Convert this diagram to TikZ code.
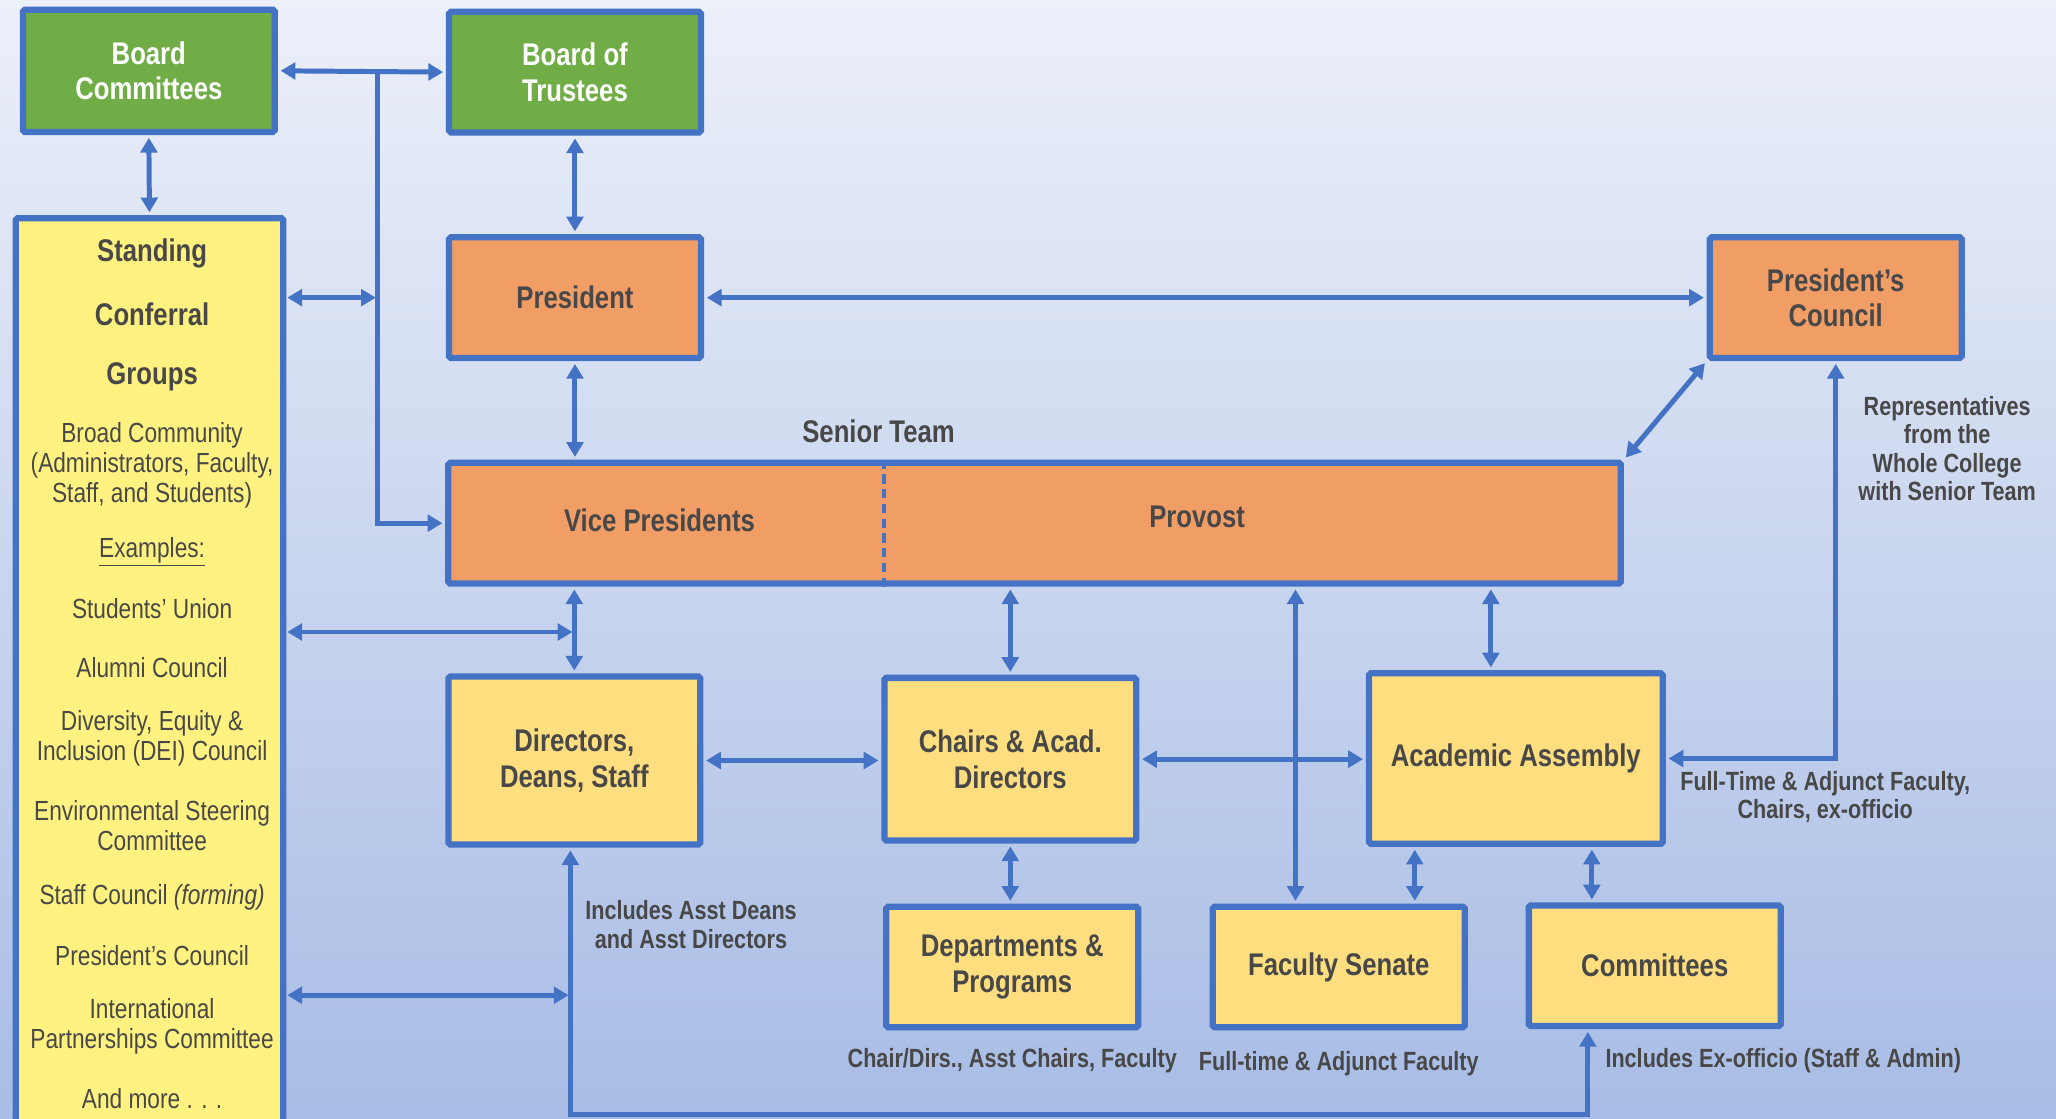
\documentclass[tikz,border=0pt]{standalone}
\usepackage{fontspec}
\setmainfont[FakeStretch=0.82]{Liberation Sans}
\usepackage{tikz}
\usetikzlibrary{arrows.meta,positioning,calc}
\definecolor{orgblue}{RGB}{68,114,196}
\definecolor{grn}{RGB}{112,173,71}
\definecolor{org}{RGB}{241,157,102}
\definecolor{ylw}{RGB}{255,222,128}
\definecolor{lylw}{RGB}{255,242,128}
\definecolor{txtgray}{RGB}{72,72,72}
\definecolor{bgtop}{RGB}{236,240,249}
\definecolor{bgbot}{RGB}{168,188,229}

\begin{document}
\begin{tikzpicture}[x=0.025cm, y=-0.025cm, >={Triangle[length=8pt,width=9pt]},
  box/.style={rectangle, rounded corners=1pt, draw=orgblue, line width=3.4pt, align=center, text=txtgray,
    font=\bfseries\fontsize{17}{19.3}\selectfont, minimum width=4.8cm, minimum height=2.3cm, inner sep=2pt},
  head/.style={text=txtgray, font=\bfseries\fontsize{17}{19.3}\selectfont},
  item/.style={text=txtgray, align=center, font=\fontsize{15}{16.3}\selectfont, inner sep=1pt},
  note/.style={text=txtgray, align=center, font=\bfseries\fontsize{14.3}{15.4}\selectfont, inner sep=1pt}]
   \fill[top color=bgtop, bottom color=bgbot] (0,0) rectangle (1568,853);
   \useasboundingbox (0,0) rectangle (1568,853);
   \clip (0,0) rectangle (1568,853);
   \begin{scope}[every node/.style={box}]
    \node (bc) [fill=grn, text=white, minimum height=2.33cm] at (113.5,54) {Board\\Committees};
    \node (bt) [fill=grn, text=white] at (438.5,55) {Board of\\Trustees};
    \node (pres) [fill=org] at (438.5,227) {President};
    \node (pc) [fill=org] at (1400,227) {President’s\\Council};
    \node (st) [fill=org, minimum width=22.35cm] at (789,399) {};
    \node (dds) [fill=ylw, minimum height=3.2cm] at (438,580) {Directors,\\Deans, Staff};
    \node (cad) [fill=ylw, minimum height=3.1cm] at (770.5,579) {Chairs \& Acad.\\Directors};
    \node (aa) [fill=ylw, minimum width=5.6cm, minimum height=3.25cm] at (1156,578.5) {Academic Assembly};
    \node (dp) [fill=ylw] at (772,737.5) {Departments \&\\Programs};
    \node (fs) [fill=ylw] at (1021,737.5) {Faculty Senate};
    \node (cm) [fill=ylw] at (1262,736.5) {Committees};
    \node (sc) [fill=lylw, minimum width=5.1cm, minimum height=17.6cm] at (114,518.5) {};
   \end{scope}
   % senior team split
   \draw[orgblue, line width=2.4pt, dash pattern=on 5pt off 3pt] (st.north -| 674,0) -- (st.south -| 674,0);
   \node (vp) [head] at (503,397) {Vice Presidents};
   \node (prov) [head] at (913,394) {Provost};
   \node (stl) [head] at (670,329) {Senior Team};
   % standing conferral groups
   \node (sc1) [head] at (116,193) {Standing};
   \node (sc2) [head] at (116,240) {Conferral};
   \node (sc3) [head] at (116,287) {Groups};
   \node (sc4) [item] at (116,355) {Broad Community\\(Administrators, Faculty,\\Staff, and Students)};
   \node (sc5) [item] at (116,421) {\underline{Examples:}};
   \node (sc6) [item] at (116,464) {Students’ Union};
   \node (sc7) [item] at (116,509) {Alumni Council};
   \node (sc8) [item] at (116,563) {Diversity, Equity \&\\Inclusion (DEI) Council};
   \node (sc9) [item] at (116,630) {Environmental Steering\\Committee};
   \node (sc10) [item] at (116,684) {Staff Council \textit{(forming)}};
   \node (sc11) [item] at (116,729) {President’s Council};
   \node (sc12) [item] at (116,783) {International\\Partnerships Committee};
   \node (sc13) [item] at (116,838) {And more . . .};
   % notes
   \node (rep) [note] at (1485,342) {Representatives\\from the\\Whole College\\with Senior Team};
   \node (aan) [note] at (1392,608) {Full-Time \& Adjunct Faculty,\\Chairs, ex-officio};
   \node (ddsn) [note] at (527,705) {Includes Asst Deans\\and Asst Directors};
   \node (dpn) [note] at (772,809) {Chair/Dirs., Asst Chairs, Faculty};
   \node (fsn) [note] at (1021,811) {Full-time \& Adjunct Faculty};
   \node (cmn) [note] at (1360,809) {Includes Ex-officio (Staff \& Admin)};
   \begin{scope}[<->, line width=2.7pt, color=orgblue, shorten >=1.5pt, shorten <=1.5pt]
    \coordinate (jt) at (288,53);
    \coordinate (lb) at (435,850);
    \coordinate (rb) at (1211,850);
    \draw (bc.east) -- (bt.west);
    \draw [->, shorten <=0pt] (jt) |- (st.west);
    \draw [shorten >=1pt, shorten <=0.5pt] (sc.east |- pres) -- (jt |- pres);
    \draw (bc.south) -- (sc.north);
    \draw (bt.south) -- (pres.north);
    \draw (pres.south) -- (pres.south |- st.north);
    \draw (pres.east) -- (pc.west);
    \draw (st.north east) -- (pc.south west);
    \draw (aa.east) -| (pc.south);
    \draw (dds.north |- st.south) -- (dds.north);
    \draw [shorten >=1pt, shorten <=0.5pt] (sc.east |- 0,482) -- (dds.north |- 0,482);
    \draw (cad.north |- st.south) -- (cad.north);
    \draw (st.south -| 988,0) -- (fs.north -| 988,0);
    \draw (st.south -| 1137,0) -- (aa.north -| 1137,0);
    \draw (dds.east) -- (dds.east -| cad.west);
    \draw (cad.east) -- (cad.east -| aa.west);
    \draw (cad.south) -- (cad.south |- dp.north);
    \draw (aa.south -| 1079,0) -- (fs.north -| 1079,0);
    \draw (aa.south -| 1214,0) -- (cm.north -| 1214,0);
    \draw (dds.south -| lb) -- (lb) -- (rb) -- (cm.south -| rb);
    \draw [shorten >=1pt, shorten <=0.5pt] (sc.east |- 0,759) -- (lb |- 0,759);
   \end{scope}
\end{tikzpicture}
\end{document}
